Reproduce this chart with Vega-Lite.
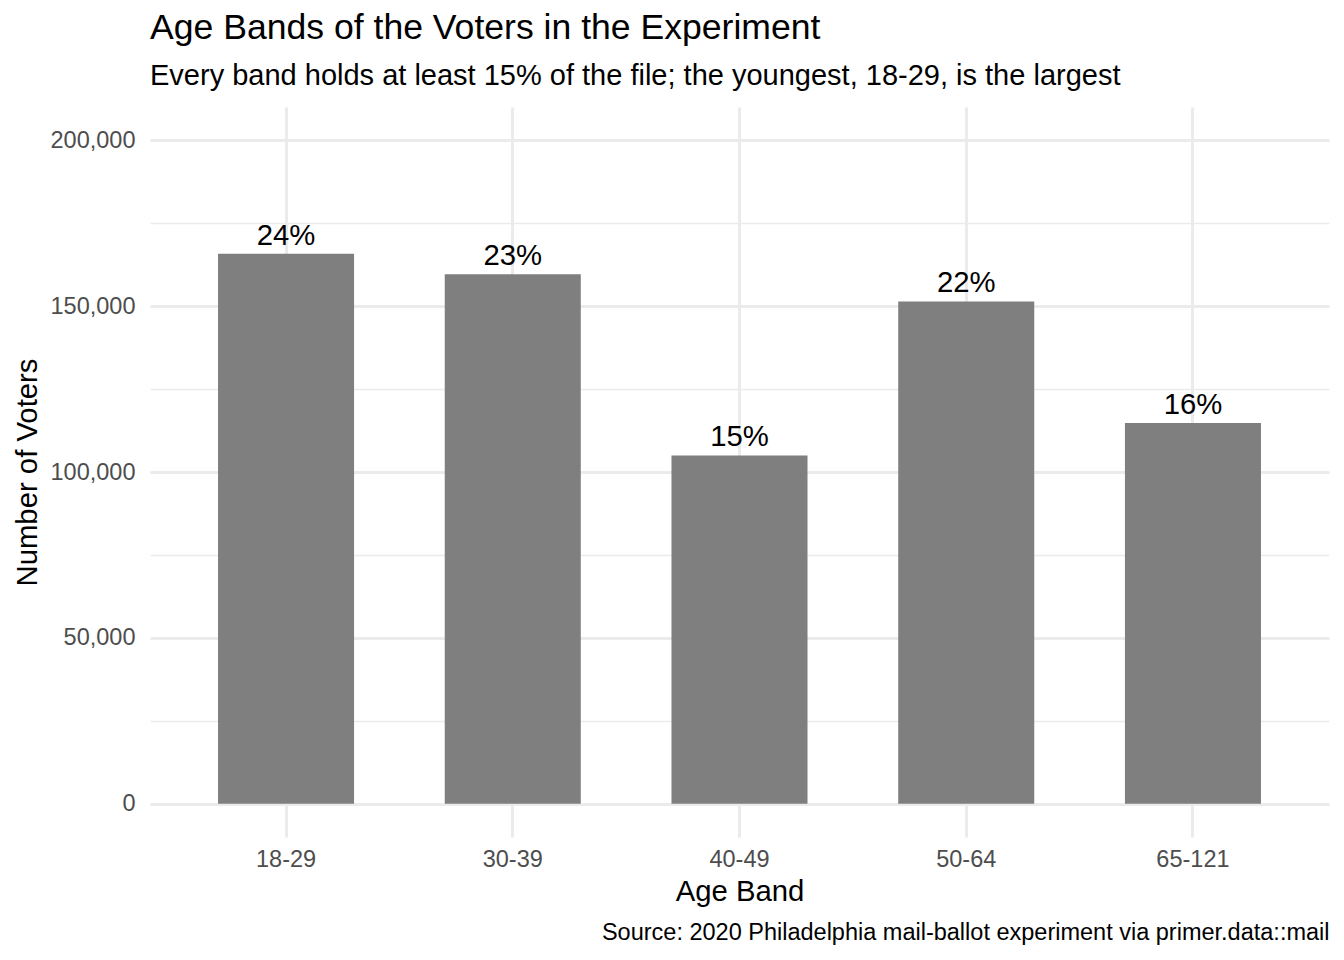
{
  "$schema": "https://vega.github.io/schema/vega-lite/v6.json",
  "width": 1179,
  "height": 730,
  "autosize": {"type": "none"},
  "padding": {"left": 150, "top": 107, "right": 15, "bottom": 123},
  "background": "white",
  "title": {
    "text": "Age Bands of the Voters in the Experiment",
    "subtitle": "Every band holds at least 15% of the file; the youngest, 18-29, is the largest",
    "anchor": "start",
    "frame": "group",
    "font": "Liberation Sans",
    "fontSize": 35.6,
    "fontWeight": "normal",
    "color": "black",
    "subtitleFont": "Liberation Sans",
    "subtitleFontSize": 29,
    "subtitleColor": "black",
    "subtitlePadding": 15,
    "offset": 16
  },
  "config": {
    "font": "Liberation Sans",
    "view": {"stroke": null}
  },
  "data": {
    "values": [
      {"band": "18-29", "voters": 165800, "label": "24%"},
      {"band": "30-39", "voters": 159600, "label": "23%"},
      {"band": "40-49", "voters": 105000, "label": "15%"},
      {"band": "50-64", "voters": 151400, "label": "22%"},
      {"band": "65-121", "voters": 114800, "label": "16%"}
    ]
  },
  "layer": [
    {
      "mark": {"type": "bar", "color": "#7F7F7F"},
      "encoding": {
        "x": {
          "field": "band",
          "type": "nominal",
          "sort": null,
          "scale": {"paddingInner": 0.4, "paddingOuter": 0.3},
          "axis": {
            "orient": "bottom",
            "title": "Age Band",
            "titleFontSize": 29.3,
            "titleFontWeight": "normal",
            "titleColor": "black",
            "titlePadding": 7,
            "labelFontSize": 23.5,
            "labelColor": "#4D4D4D",
            "labelAngle": 0,
            "labelPadding": 10,
            "ticks": false,
            "domain": false,
            "grid": true,
            "gridColor": "#EBEBEB",
            "gridWidth": 3,
            "bandPosition": 0.5
          }
        },
        "y": {
          "field": "voters",
          "type": "quantitative",
          "scale": {"domain": [-10000, 210000], "nice": false, "zero": false},
          "axis": {
            "title": "Number of Voters",
            "titleFontSize": 29.3,
            "titleFontWeight": "normal",
            "titleColor": "black",
            "titlePadding": 8,
            "values": [0, 25000, 50000, 75000, 100000, 125000, 150000, 175000, 200000],
            "labelExpr": "datum.value % 50000 === 0 ? format(datum.value, ',') : ''",
            "labelFontSize": 23.5,
            "labelColor": "#4D4D4D",
            "labelPadding": 15,
            "ticks": false,
            "domain": false,
            "grid": true,
            "gridColor": "#EBEBEB",
            "gridWidth": {"condition": {"test": "datum.value % 50000 === 0", "value": 3}, "value": 1.5}
          }
        }
      }
    },
    {
      "mark": {"type": "text", "fontSize": 29.3, "baseline": "alphabetic", "dy": -9, "color": "black"},
      "encoding": {
        "x": {
          "field": "band",
          "type": "nominal",
          "sort": null,
          "axis": {
            "orient": "bottom",
            "title": "Source: 2020 Philadelphia mail-ballot experiment via primer.data::mail",
            "titleAnchor": "end",
            "titleFontSize": 23.5,
            "titleFontWeight": "normal",
            "titleColor": "black",
            "titlePadding": 83,
            "labels": false,
            "ticks": false,
            "domain": false,
            "grid": false
          }
        },
        "y": {"field": "voters", "type": "quantitative"},
        "text": {"field": "label"}
      }
    }
  ],
  "resolve": {"axis": {"x": "independent"}}
}
